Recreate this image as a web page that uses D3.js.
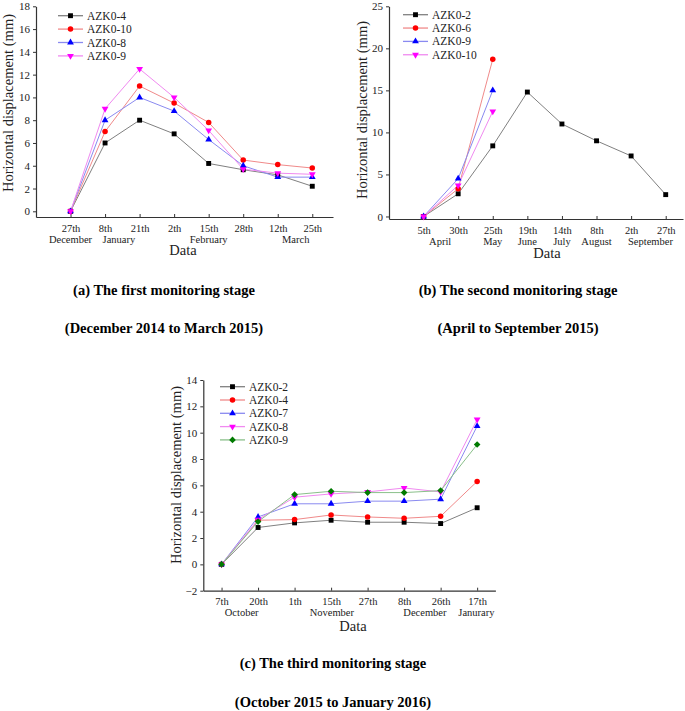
<!DOCTYPE html>
<html>
<head>
<meta charset="utf-8">
<script src="https://cdn.jsdelivr.net/npm/d3@7/dist/d3.min.js"></script>
<style>
  body { margin: 0; background: #fff; }
  svg { display: block; }
  text { font-family: "Liberation Serif", "Times New Roman", serif; }
</style>
</head>
<body>
<svg id="chart" width="685" height="711"></svg>
<script>
// ---------- DATA ----------
// (a) first monitoring stage
const daysA = ["27th", "8th", "21th", "2th", "15th", "28th", "12th", "25th"];
const monthsA = ["December", "January", "February", "March"];
const monthPosA = [0, 1.4, 4, 6.52];
const namesA = ["AZK0-4", "AZK0-10", "AZK0-8", "AZK0-9"];
const azk04_a = [0, 6, 8, 6.8, 4.2, 3.65, 3.2, 2.2];
const azk010_a = [0, 7, 11, 9.5, 7.8, 4.5, 4.1, 3.8];
const azk08_a = [0, 8, 10, 8.8, 6.3, 4.0, 3.0, 3.0];
const azk09_a = [0, 9, 12.5, 10, 7.1, 3.7, 3.35, 3.25];
const yTicksA = [0, 2, 4, 6, 8, 10, 12, 14, 16, 18];

// (b) second monitoring stage
const daysB = ["5th", "30th", "25th", "19th", "14th", "8th", "2th", "27th"];
const monthsB = ["April", "May", "June", "July", "August", "September"];
const monthPosB = [0.48, 2, 3, 4, 5, 6.56];
const namesB = ["AZK0-2", "AZK0-6", "AZK0-9", "AZK0-10"];
const azk02_b = [0, 2.7, 8.4, 14.8, 11.0, 9.0, 7.2, 2.6];
const azk06_b = [0, 3.3, 18.7];
const azk09_b = [0, 4.5, 15.0];
const azk010_b = [0, 3.7, 12.5];
const yTicksB = [0, 5, 10, 15, 20, 25];

// (c) third monitoring stage
const daysC = ["7th", "20th", "1th", "15th", "27th", "8th", "26th", "17th"];
const monthsC = ["October", "November", "December", "Janurary"];
const monthPosC = [0.55, 3.02, 5.57, 6.98];
const namesC = ["AZK0-2", "AZK0-4", "AZK0-7", "AZK0-8", "AZK0-9"];
const azk02_c = [0, 2.8, 3.15, 3.35, 3.2, 3.2, 3.1, 4.3];
const azk04_c = [0, 3.35, 3.4, 3.75, 3.6, 3.5, 3.65, 6.3];
const azk07_c = [0, 3.6, 4.6, 4.6, 4.8, 4.8, 4.95, 10.5];
const azk08_c = [0, 3.4, 5.1, 5.35, 5.5, 5.8, 5.5, 11.0];
const azk09_c = [0, 3.25, 5.3, 5.55, 5.45, 5.45, 5.6, 9.1];
const yTicksC = [-2, 0, 2, 4, 6, 8, 10, 12, 14];

const captions = [
  ["(a) The first monitoring stage", "(December 2014 to March 2015)"],
  ["(b) The second monitoring stage", "(April to September 2015)"],
  ["(c) The third monitoring stage", "(October 2015 to January 2016)"]
];

// ---------- STYLE ----------
const sym = {
  square: d3.symbolSquare, circle: d3.symbolCircle, up: d3.symbolTriangle,
  down: d3.symbolTriangle, diamond: d3.symbolSquare
};
const symSize = { square: 24, circle: 24, up: 20, down: 20, diamond: 22 };
const symRot = { square: 0, circle: 0, up: 0, down: 180, diamond: 45 };

const svg = d3.select("#chart");
svg.append("rect").attr("width", 685).attr("height", 711).attr("fill", "#fff");

function panel(cfg) {
  const g = svg.append("g");
  const x = d3.scaleLinear().domain(cfg.xDomain).range(cfg.xRange);
  const y = d3.scaleLinear().domain(cfg.yDomain).range(cfg.yRange);

  // y axis
  const ya = g.append("g").attr("transform", `translate(${cfg.xRange[0]},0)`)
    .call(d3.axisLeft(y).tickValues(cfg.yTicks).tickSize(3).tickSizeOuter(0).tickPadding(3));
  // x axis (ticks pointing inward)
  const xa = g.append("g").attr("transform", `translate(0,${cfg.yRange[0]})`)
    .call(d3.axisBottom(x).tickValues(d3.range(cfg.days.length)).tickFormat(i => cfg.days[i])
      .tickSize(-3).tickSizeOuter(0).tickPadding(8));
  [ya, xa].forEach(a => {
    a.select(".domain").attr("stroke", "#333").attr("stroke-width", 1.2);
    a.selectAll(".tick line").attr("stroke", "#333").attr("stroke-width", 1);
    a.selectAll(".tick text").attr("fill", "#222").style("font-size", "11px")
      .style("font-family", "'Liberation Serif', serif");
  });
  xa.selectAll(".tick text").attr("dy", "0").attr("y", 14.5).style("font-size", "10.5px");

  // month labels
  g.selectAll(".month").data(cfg.months).join("text")
    .attr("x", (d, i) => x(cfg.monthPos[i]))
    .attr("y", cfg.yRange[0] + 25.5)
    .attr("text-anchor", "middle").attr("fill", "#222").style("font-size", "10.5px")
    .text(d => d);

  // axis titles
  g.append("text").attr("x", cfg.dataX).attr("y", cfg.dataY)
    .attr("text-anchor", "middle").style("font-size", "14.5px").attr("fill", "#222").text("Data");
  g.append("text").attr("transform", `translate(${cfg.titleX},${cfg.titleY}) rotate(-90)`)
    .attr("text-anchor", "middle").style("font-size", "14.5px").attr("fill", "#222")
    .text("Horizontal displacement (mm)");

  // series
  cfg.series.forEach(s => {
    const line = d3.line().x((d, i) => x(i)).y(d => y(d));
    g.append("path").attr("d", line(s.values)).attr("fill", "none")
      .attr("stroke", s.line).attr("stroke-width", 1);
  });
  cfg.series.forEach(s => {
    const shape = d3.symbol().type(sym[s.shape]).size(symSize[s.shape]);
    g.selectAll(null).data(s.values).join("path")
      .attr("d", shape)
      .attr("transform", (d, i) => `translate(${x(i)},${y(d)}) rotate(${symRot[s.shape]})`)
      .attr("fill", s.color);
  });

  // legend
  const lg = g.append("g");
  cfg.series.forEach((s, i) => {
    const yy = cfg.legY + i * cfg.legStep;
    lg.append("line").attr("x1", cfg.legX).attr("x2", cfg.legX + 25)
      .attr("y1", yy).attr("y2", yy).attr("stroke", s.line).attr("stroke-width", 1.3);
    const shape = d3.symbol().type(sym[s.shape]).size(symSize[s.shape]);
    lg.append("path").attr("d", shape)
      .attr("transform", `translate(${cfg.legX + 12.5},${yy}) rotate(${symRot[s.shape]})`)
      .attr("fill", s.color);
    lg.append("text").attr("x", cfg.legX + 29).attr("y", yy).attr("dy", "0.35em")
      .style("font-size", "11.5px").attr("fill", "#222").text(s.name);
  });

  // captions
  cfg.caption.forEach((t, i) => {
    g.append("text").attr("x", cfg.capX).attr("y", cfg.capY[i]).attr("dy", "0.35em")
      .attr("text-anchor", "middle").style("font-size", "14.5px").style("font-weight", "bold")
      .attr("fill", "#000").text(t);
  });
}

const colBlack = "#000", colRed = "#ff0000", colBlue = "#0000ff", colMag = "#ff00ff", colGreen = "#007a00";
const lnBlack = "#808080", lnRed = "#f08a8a", lnBlue = "#8a8af0", lnMag = "#f08af0", lnGreen = "#8ac08a";

panel({
  xDomain: [-1, 7.6], xRange: [36, 333],
  yDomain: [-0.5, 18], yRange: [217, 6.3], yTicks: yTicksA,
  days: daysA, months: monthsA, monthPos: monthPosA,
  dataX: 183, dataY: 255, titleX: 13, titleY: 103,
  legX: 58, legY: 15.7, legStep: 13.4,
  capX: 164, capY: [290, 328], caption: captions[0],
  series: [
    { name: namesA[0], values: azk04_a, color: colBlack, line: lnBlack, shape: "square" },
    { name: namesA[1], values: azk010_a, color: colRed, line: lnRed, shape: "circle" },
    { name: namesA[2], values: azk08_a, color: colBlue, line: lnBlue, shape: "up" },
    { name: namesA[3], values: azk09_a, color: colMag, line: lnMag, shape: "down" }
  ]
});

panel({
  xDomain: [-1, 7.5], xRange: [389, 683],
  yDomain: [-0.3, 25], yRange: [219, 6.3], yTicks: yTicksB,
  days: daysB, months: monthsB, monthPos: monthPosB,
  dataX: 547, dataY: 258, titleX: 367, titleY: 110,
  legX: 403, legY: 14.7, legStep: 13.35,
  capX: 518, capY: [290, 328], caption: captions[1],
  series: [
    { name: namesB[0], values: azk02_b, color: colBlack, line: lnBlack, shape: "square" },
    { name: namesB[1], values: azk06_b, color: colRed, line: lnRed, shape: "circle" },
    { name: namesB[2], values: azk09_b, color: colBlue, line: lnBlue, shape: "up" },
    { name: namesB[3], values: azk010_b, color: colMag, line: lnMag, shape: "down" }
  ]
});

panel({
  xDomain: [-0.5, 7.5], xRange: [203.3, 495.4],
  yDomain: [-2, 14], yRange: [590.7, 380], yTicks: yTicksC,
  days: daysC, months: monthsC, monthPos: monthPosC,
  dataX: 353, dataY: 631, titleX: 181, titleY: 475,
  legX: 220, legY: 386.7, legStep: 13.3,
  capX: 333, capY: [663, 702], caption: captions[2],
  series: [
    { name: namesC[0], values: azk02_c, color: colBlack, line: lnBlack, shape: "square" },
    { name: namesC[1], values: azk04_c, color: colRed, line: lnRed, shape: "circle" },
    { name: namesC[2], values: azk07_c, color: colBlue, line: lnBlue, shape: "up" },
    { name: namesC[3], values: azk08_c, color: colMag, line: lnMag, shape: "down" },
    { name: namesC[4], values: azk09_c, color: colGreen, line: lnGreen, shape: "diamond" }
  ]
});
</script>
</body>
</html>
